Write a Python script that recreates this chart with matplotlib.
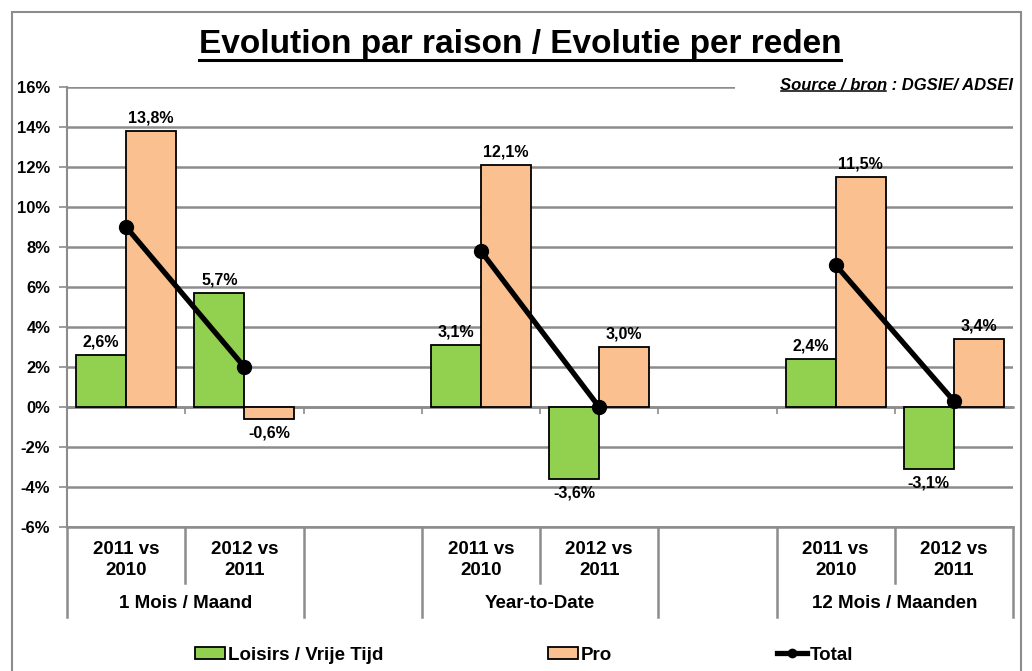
import numpy as np
import matplotlib
matplotlib.use("Agg")
import matplotlib.pyplot as plt
from matplotlib.lines import Line2D
from matplotlib.patches import Patch, Rectangle
from matplotlib.transforms import blended_transform_factory

plt.rcParams['font.family'] = ['Liberation Sans', 'DejaVu Sans']

# data
cat_labels = ["2011 vs\n2010", "2012 vs\n2011", "", "2011 vs\n2010", "2012 vs\n2011", "",
              "2011 vs\n2010", "2012 vs\n2011"]
group_labels = ["1 Mois / Maand", "", "Year-to-Date", "", "12 Mois / Maanden"]
group_sizes = [2, 1, 2, 1, 2]
loisirs = [2.6, 5.7, np.nan, 3.1, -3.6, np.nan, 2.4, -3.1]
pro = [13.8, -0.6, np.nan, 12.1, 3.0, np.nan, 11.5, 3.4]
total = [9.0, 2.0, np.nan, 7.8, 0.0, np.nan, 7.1, 0.3]
yticks = [-6, -4, -2, 0, 2, 4, 6, 8, 10, 12, 14, 16]

GREEN = "#92D050"
ORANGE = "#FAC090"
GRID = "#8C8C8C"

W, H = 1032, 671
fig = plt.figure(figsize=(W / 100, H / 100), dpi=100)
fig.patch.set_facecolor("white")

# outer frame
fig.add_artist(Rectangle((12 / W, -0.1), (1021 - 12) / W, (H - 12) / H + 0.1,
                         transform=fig.transFigure, fill=False, edgecolor="#8C8C8C", lw=1.5))

x0, x1, ytop, ybot = 67, 1013, 87, 527
ax = fig.add_axes([x0 / W, (H - ybot) / H, (x1 - x0) / W, (ybot - ytop) / H])

n = len(cat_labels)
x = np.arange(n)
bw = 1 / (2 + 0.36)

ax.bar(x - bw / 2, loisirs, bw, color=GREEN, edgecolor="black", lw=1.3, zorder=3)
ax.bar(x + bw / 2, pro, bw, color=ORANGE, edgecolor="black", lw=1.3, zorder=3)
ax.plot(x, total, color="black", lw=3.8, marker="o", ms=10, zorder=4)

def fmt(v):
    return f"{v:.1f}%".replace(".", ",")

for vals, off in [(loisirs, -bw / 2), (pro, bw / 2)]:
    for xi, v in zip(x, vals):
        if np.isnan(v):
            continue
        if v >= 0:
            ax.annotate(fmt(v), (xi + off, v), xytext=(0, 4), textcoords="offset points",
                        ha="center", va="bottom", fontsize=11.5, fontweight="bold", zorder=5)
        else:
            ax.annotate(fmt(v), (xi + off, v), xytext=(0, -5), textcoords="offset points",
                        ha="center", va="top", fontsize=11.5, fontweight="bold", zorder=5)

ax.set_xlim(-0.5, n - 0.5)
ax.set_ylim(-6, 16)
ax.set_yticks(yticks)
ax.set_yticklabels([f"{t}%" for t in yticks], fontsize=12, fontweight="bold")
ax.yaxis.grid(True, color=GRID, lw=1.8, zorder=0)
ax.axhline(-6, color=GRID, lw=1.8, clip_on=False, zorder=0)
ax.set_axisbelow(True)
ax.tick_params(axis="y", direction="out", length=6, color=GRID, width=1.2, pad=6)

bounds = np.arange(n + 1) - 0.5
ax.set_xticks(bounds[1:-1])
ax.set_xticklabels([])
ax.tick_params(axis="x", direction="out", length=5, color=GRID, width=1.2)
ax.spines["bottom"].set_position(("data", 0))
ax.spines["bottom"].set_color(GRID)
ax.spines["bottom"].set_linewidth(1.8)
ax.spines["left"].set_color(GRID)
ax.spines["left"].set_linewidth(1.5)
ax.spines["top"].set_visible(False)
ax.spines["right"].set_visible(False)

# multi-level category axis below the plot
tr = blended_transform_factory(ax.transData, fig.transFigure)
y_plot = (H - ybot) / H
y_mid = (H - 583) / H
y_low = (H - 617) / H
group_edges = np.cumsum([0] + group_sizes)
for i, b in enumerate(bounds):
    yend = y_low if i in group_edges else y_mid
    fig.add_artist(Line2D([b, b], [y_plot, yend], transform=tr, color=GRID, lw=1.8))
for xi, lab in zip(x, cat_labels):
    fig.text(xi, (H - 560) / H, lab, transform=tr, ha="center", va="center",
             fontsize=13.5, fontweight="bold", linespacing=1.25)
for g, lab in enumerate(group_labels):
    c = (group_edges[g] + group_edges[g + 1]) / 2 - 0.5
    fig.text(c, (H - 604) / H, lab, transform=tr, ha="center", va="center",
             fontsize=13.5, fontweight="bold")

# legend
handles = [Patch(facecolor=GREEN, edgecolor="black", lw=1.3),
           Patch(facecolor=ORANGE, edgecolor="black", lw=1.3),
           Line2D([], [], color="black", lw=3.8, marker="o", ms=6)]
fig.legend(handles, ["Loisirs / Vrije Tijd", "Pro", "Total"], ncol=3, frameon=False,
           loc="center left", bbox_to_anchor=(195 / W, (H - 655) / H),
           prop={"size": 13.5, "weight": "bold"}, handlelength=1.6, handleheight=0.6,
           handletextpad=0.15, columnspacing=8.8, borderpad=0, borderaxespad=0)

# title and source with underlines
title = fig.text(520 / W, (H - 44) / H, "Evolution par raison / Evolutie per reden",
                 ha="center", va="center", fontsize=24, fontweight="bold")
src2 = fig.text(1013 / W, (H - 85) / H, " : DGSIE/ ADSEI", ha="right", va="center",
                fontsize=12, fontweight="bold", style="italic")
fig.canvas.draw()
r = fig.canvas.get_renderer()
bb2 = src2.get_window_extent(r)
src1 = fig.text(bb2.x0 / W, (H - 85) / H, "Source / bron", ha="right", va="center",
                fontsize=12, fontweight="bold", style="italic")
fig.canvas.draw()
bb1 = src1.get_window_extent(r)
fig.add_artist(Rectangle((bb1.x0 - 45, bb1.y0 - 2), bb2.x1 - bb1.x0 + 49, bb1.height + 4,
                         transform=None, facecolor="white", edgecolor="none", zorder=2))
src1.set_zorder(3)
src2.set_zorder(3)
fig.add_artist(Line2D([bb1.x0 + 1, bb1.x1 - 1], [bb1.y0 + 2, bb1.y0 + 2], transform=None,
                      color="black", lw=1.1, zorder=3))
bt = title.get_window_extent(r)
fig.add_artist(Line2D([bt.x0, bt.x1], [H - 60, H - 60], transform=None, color="black", lw=2.2))

fig.savefig("out.png", dpi=100)
